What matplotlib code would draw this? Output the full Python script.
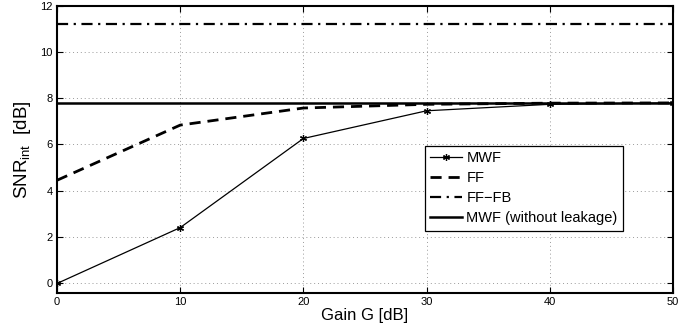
import matplotlib
matplotlib.use("Agg")
import matplotlib.pyplot as plt
from matplotlib.ticker import MultipleLocator

plt.rcParams['font.family'] = ['Liberation Sans', 'DejaVu Sans']
plt.rcParams['mathtext.fontset'] = 'custom'
plt.rcParams['mathtext.rm'] = 'Liberation Sans'
plt.rcParams['mathtext.it'] = 'Liberation Sans'

gain = [0, 10, 20, 30, 40, 50]
mwf = [-0.02, 2.40, 6.26, 7.46, 7.74, 7.80]
ff = [4.45, 6.84, 7.58, 7.74, 7.79, 7.80]
ff_fb = [11.22] * 6
mwf_noleak = [7.81] * 6

fig = plt.figure(figsize=(6.98, 3.31), dpi=100)
ax = fig.add_axes([0.0817, 0.115, 0.8825, 0.867])

ax.plot(gain, mwf, color='black', lw=0.9, marker=(6, 2, 0), ms=5, mew=0.9, label='MWF')
ax.plot(gain, ff, color='black', lw=2.0, ls=(0, (4, 2.5)), label='FF')
ax.plot(gain, ff_fb, color='black', lw=1.6, ls=(0, (5, 2.5, 1, 2.5)), label='FF\u2212FB')
ax.plot(gain, mwf_noleak, color='black', lw=1.8, label='MWF (without leakage)')

ax.set_xlim(0, 50)
ax.set_ylim(-0.43, 12)
ax.xaxis.set_major_locator(MultipleLocator(10))
ax.yaxis.set_major_locator(MultipleLocator(2))
ax.grid(True, color='#9a9a9a', ls=(0, (1, 3)), lw=0.7)
ax.tick_params(direction='in', length=4, width=0.8, labelsize=8, colors='black',
               top=True, right=True, pad=3)
for s in ax.spines.values():
    s.set_linewidth(1.5)

ax.set_xlabel('Gain G [dB]', fontsize=12, labelpad=1)
ax.set_ylabel('SNR$_{\\mathrm{int}}$  [dB]', fontsize=13.5, labelpad=5)

leg = ax.legend(loc='upper left', bbox_to_anchor=(0.597, 0.512), fontsize=10.5,
                frameon=True, fancybox=False, edgecolor='black', framealpha=1,
                handlelength=2.2, handletextpad=0.3, borderpad=0.35,
                labelspacing=0.42, borderaxespad=0)
leg.get_frame().set_linewidth(0.9)

fig.savefig('out.png', dpi=100)
